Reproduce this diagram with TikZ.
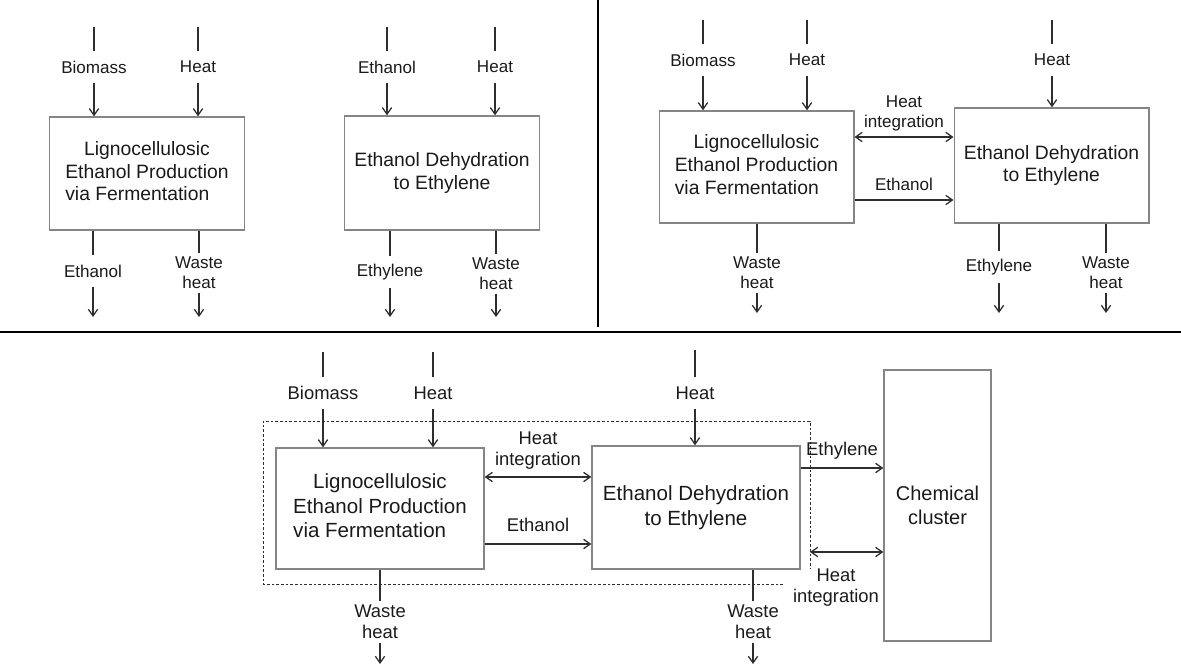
\documentclass[tikz,border=0pt]{standalone}
\usepackage{fontspec}
\setmainfont{Liberation Sans}
\usetikzlibrary{arrows.meta}

\definecolor{linecol}{HTML}{2E2E2E}
\definecolor{boxcol}{HTML}{858585}
\definecolor{txtcol}{HTML}{1A1A1A}

\newcommand{\lignotext}{\begin{tabular}{@{}l@{}}\multicolumn{1}{@{}c@{}}{Lignocellulosic}\\Ethanol Production\\via Fermentation\end{tabular}}

\begin{document}
\begin{tikzpicture}[x=0.75pt,y=-0.75pt,
    box/.style={draw=boxcol,line width=1pt,inner sep=0pt,align=center,text=txtcol},
    topbox/.style={box,minimum width=146pt,font=\fontsize{14.5pt}{16.9pt}\selectfont},
    botbox/.style={box,minimum width=156pt,font=\fontsize{15.4pt}{18.4pt}\selectfont},
    lbl/.style={inner xsep=2pt,inner ysep=2.5pt,minimum height=23pt,align=center,text=txtcol,font=\fontsize{12.8pt}{15pt}\selectfont},
    blbl/.style={lbl,font=\fontsize{13.8pt}{15.8pt}\selectfont},
    ln/.style={draw=linecol,line width=0.95pt},
    arr/.style={ln,-{Straight Barb[length=5pt,width=7pt]}},
    dbl/.style={ln,{Straight Barb[length=5pt,width=7pt]}-{Straight Barb[length=5pt,width=7pt]}},
    sep/.style={draw=black,line width=1.3pt},
    dashbox/.style={draw=linecol,line width=0.6pt,dash pattern=on 2pt off 1.5pt}]
        \useasboundingbox (0,0) rectangle (1181,666);
        % Separate the three cases
        \draw[sep] (598,0) -- (598,327);
        \draw[sep] (0,332) -- (1181,332);

        % Case 1: stand-alone plants
        \node[topbox,minimum height=84.75pt] (ligA) at (147,173.5) {\lignotext};
        \node[topbox,minimum height=85.5pt] (dehA) at (442,173) {Ethanol Dehydration\\to Ethylene};
        \foreach \x/\t/\n/\b in {94/Biomass/inA1/ligA, 198/Heat/inA2/ligA, 387/Ethanol/inA3/dehA, 495/Heat/inA4/dehA}{
            \coordinate (s\n) at (\x,27);
            \node[lbl] (\n) at (\x,67) {\t};
            \draw[ln] (s\n) -- (\n);
            \draw[arr] (\n) -- (\n |- \b.north);
        }
        \foreach \x/\y/\t/\n/\b in {93/271/Ethanol/outA1/ligA, 199/273/Waste\\heat/outA2/ligA, 390/272/Ethylene/outA3/dehA, 496/274/Waste\\heat/outA4/dehA}{
            \node[lbl] (\n) at (\x,\y) {\t};
            \coordinate (e\n) at (\x,317);
            \draw[ln] (\n |- \b.south) -- (\n);
            \draw[arr] (\n) -- (e\n);
        }

        % Case 2: integrated plants
        \node[topbox,minimum height=84pt] (ligB) at (756.5,167) {\lignotext};
        \node[topbox,minimum height=86.25pt] (dehB) at (1051.5,165.5) {Ethanol Dehydration\\to Ethylene};
        \foreach \x/\t/\n/\b in {703/Biomass/inB1/ligB, 807/Heat/inB2/ligB, 1052/Heat/inB3/dehB}{
            \coordinate (s\n) at (\x,20);
            \node[lbl] (\n) at (\x,60) {\t};
            \draw[ln] (s\n) -- (\n);
            \draw[arr] (\n) -- (\n |- \b.north);
        }
        \foreach \x/\y/\t/\n/\b in {757/273/Waste\\heat/outB1/ligB, 999/267/Ethylene/outB2/dehB, 1106/273/Waste\\heat/outB3/dehB}{
            \node[lbl] (\n) at (\x,\y) {\t};
            \coordinate (e\n) at (\x,313);
            \draw[ln] (\n |- \b.south) -- (\n);
            \draw[arr] (\n) -- (e\n);
        }
        \node[lbl] (hiB) at (904,113) {Heat\\integration};
        \coordinate (hiBrow) at (904,137);
        \draw[dbl] (ligB.east |- hiBrow) -- (dehB.west |- hiBrow);
        \node[lbl] (etB) at (904,184) {Ethanol};
        \coordinate (etBrow) at (904,200);
        \draw[arr] (ligB.east |- etBrow) -- (dehB.west |- etBrow);

        % Case 3: integrated plants in a chemical cluster
        \draw[dashbox] (783,584) -- (263,584) -- (263,421) -- (810,421) -- (810,568);
        \node[botbox,minimum height=90.75pt] (ligC) at (380,508.5) {\lignotext};
        \node[botbox,minimum height=92.25pt] (dehC) at (696,507.5) {Ethanol Dehydration\\to Ethylene};
        \node[box,minimum width=80.25pt,minimum height=203.25pt,font=\fontsize{15pt}{18pt}\selectfont] (clus) at (937.5,505.5) {Chemical\\cluster};
        \foreach \x/\y/\t/\n/\b in {323/352/Biomass/inC1/ligC, 433/352/Heat/inC2/ligC, 695/350/Heat/inC3/dehC}{
            \coordinate (s\n) at (\x,\y);
            \node[blbl] (\n) at (\x,393) {\t};
            \draw[ln] (s\n) -- (\n);
            \draw[arr] (\n) -- (\n |- \b.north);
        }
        \foreach \x/\t/\n/\b in {380/Waste\\heat/outC1/ligC, 753/Waste\\heat/outC2/dehC}{
            \node[blbl] (\n) at (\x,622) {\t};
            \coordinate (e\n) at (\x,664);
            \draw[ln] (\n |- \b.south) -- (\n);
            \draw[arr] (\n) -- (e\n);
        }
        \node[blbl] (hiC) at (538,450.5) {Heat\\integration};
        \coordinate (hiCrow) at (538,477);
        \draw[dbl] (ligC.east |- hiCrow) -- (dehC.west |- hiCrow);
        \node[blbl] (etC) at (538,525) {Ethanol};
        \coordinate (etCrow) at (538,544);
        \draw[arr] (ligC.east |- etCrow) -- (dehC.west |- etCrow);
        \node[blbl] (ethC) at (842,451) {Ethylene};
        \coordinate (ethCrow) at (842,468);
        \draw[arr] (dehC.east |- ethCrow) -- (clus.west |- ethCrow);
        \node[blbl] (hiD) at (836,588) {Heat\\integration};
        \coordinate (hiDrow) at (810,552);
        \draw[dbl] (hiDrow) -- (clus.west |- hiDrow);
    \end{tikzpicture}
\end{document}
